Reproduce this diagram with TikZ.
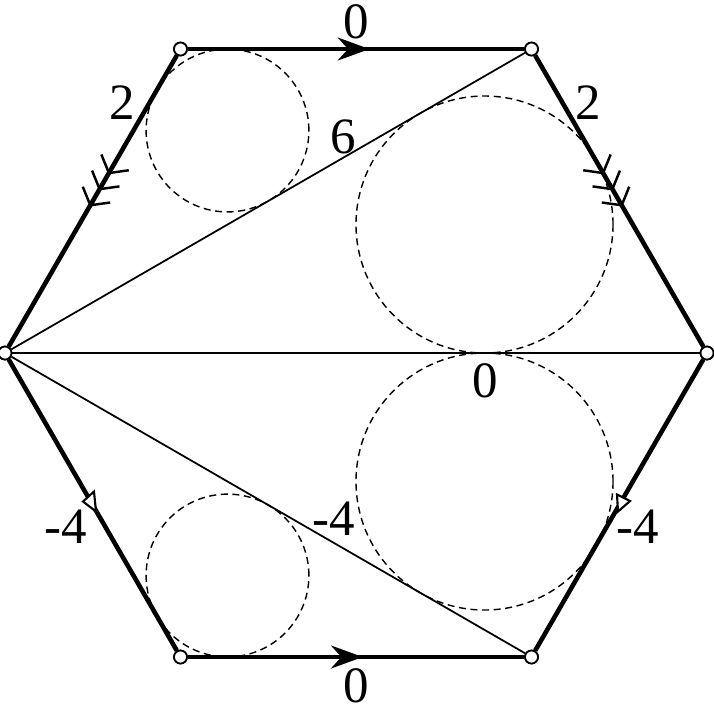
\documentclass[tikz,border=0pt]{standalone}
\usepackage{fontspec}
\setmainfont{Liberation Serif}
\usepackage{tikz}
\usetikzlibrary{arrows.meta,decorations.markings}

\tikzset{
  vertex/.style={circle, draw, fill=white, line width=0.5pt, inner sep=0pt, minimum size=0.13cm},
  edge/.style={line width=1.3pt},
  diag/.style={line width=0.5pt},
  incircle/.style={line width=0.4pt, dash pattern=on 2pt off 1.3pt},
  lbl/.style={font=\fontsize{14.5}{17}\selectfont},
  halfmark/.style={line width=0.6pt, fill=white},
  flecha/.style={postaction={decorate}, decoration={markings,
      mark=at position #1 with {\arrow{Stealth[length=9pt,width=6.5pt]}}}},
  plume/.style={postaction={decorate}, decoration={markings,
      mark=at position #1 with {\arrow[line width=0.7pt]{Straight Barb[length=3.5pt,width=9pt,sep=1pt]Straight Barb[length=3.5pt,width=9pt,sep=1pt]Straight Barb[length=3.5pt,width=9pt]}}}}
}

\begin{document}
\begin{tikzpicture}
  \useasboundingbox (-3.56,-3.56) rectangle (3.58,3.53);

  % Sommets
  \coordinate (O) at (0,0);
  \node[vertex] (L) at (180:3.51) {};
  \node[vertex] (R) at (0:3.51) {};
  \node[vertex] (TL) at (120:3.51) {};
  \node[vertex] (TR) at (60:3.51) {};
  \node[vertex] (BL) at (240:3.51) {};
  \node[vertex] (BR) at (300:3.51) {};

  % Cercles inscrits
  \draw[incircle] (-1.285,2.225) circle (0.814);
  \draw[incircle] (1.285,1.285) circle (1.285);
  \draw[incircle] (1.285,-1.285) circle (1.285);
  \draw[incircle] (-1.285,-2.225) circle (0.814);

  % Diagonales
  \draw[diag] (L) -- (TR);
  \draw[diag] (L) -- (R);
  \draw[diag] (L) -- (BR);

  % Cotes
  \draw[edge, flecha=0.54] (TL) -- (TR);
  \draw[edge, flecha=0.52] (BL) -- (BR);
  \draw[edge, plume=0.52] (TL) -- (L);
  \draw[edge, plume=0.52] (TR) -- (R);
  \draw[edge] (L) -- (BL);
  \draw[edge] (R) -- (BR);

  % Triangles
  \draw[halfmark] (-2.73,-1.485) -- (-2.62,-1.385) -- (-2.60,-1.585) -- cycle;
  \draw[halfmark] (2.74,-1.48) -- (2.61,-1.415) -- (2.62,-1.585) -- cycle;

  % redraw vertices on top
  \foreach \v in {L,R,TL,TR,BL,BR}
    \node[vertex] at (\v) {};

  % Etiquettes
  \node[lbl] (ltop) at (0,3.31) {0};
  \node[lbl] (lul) at (-2.34,2.50) {2};
  \node[lbl] (lur) at (2.32,2.50) {2};
  \node[lbl] (ldu) at (-0.13,2.16) {6};
  \node[lbl] (lmid) at (1.29,-0.28) {0};
  \node[lbl] (ldl) at (-0.22,-1.66) {-4};
  \node[lbl] (lll) at (-2.90,-1.74) {-4};
  \node[lbl] (llr) at (2.82,-1.74) {-4};
  \node[lbl] (lbot) at (0,-3.33) {0};
\end{tikzpicture}
\end{document}
